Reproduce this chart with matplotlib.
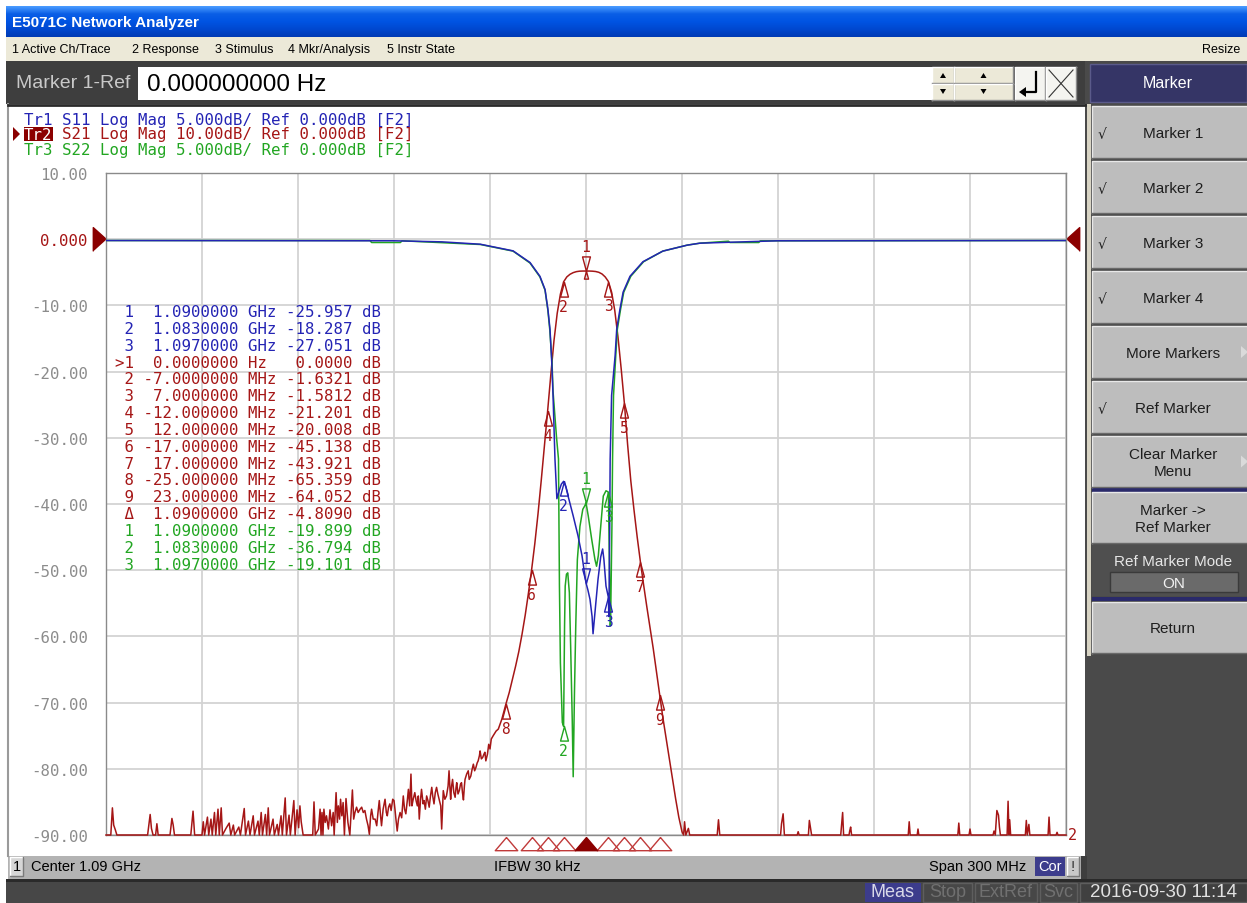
import numpy as np
import matplotlib
matplotlib.use("Agg")
import matplotlib.pyplot as plt
from matplotlib.patches import Rectangle, Polygon
from matplotlib.colors import LinearSegmentedColormap
from matplotlib.transforms import blended_transform_factory

W, H = 1247, 904
MONO = "DejaVu Sans Mono"
SANS = "Liberation Sans"

# ---- sweep settings ----
center_ghz = 1.09
span_mhz = 300.0

# ---- S21 trace (offset from centre in MHz, dB) ----
# noise floor left of the passband
s21_left_off = [-150, -148.5, -148.0, -147.6, -147.1, -146.6, -137.0, -136.2, -135.8, -135.3,
                -134.5, -134.1, -133.7, -130.0, -129.4, -129.0, -128.6, -123.5, -122.8, -122.3,
                -120.0, -119.6, -119.2, -118.3, -117.9, -117.2, -116.8, -116.1, -115.7, -115.0,
                -114.6, -114.0, -113.6, -112.5, -111.5, -111.0, -110.2, -109.8, -108.5, -108.0,
                -106.8, -106.4, -105.5, -105.0, -104.0, -103.6, -102.5, -102.1, -101.5, -101.1,
                -100.2, -99.8, -99.3, -98.9, -97.8, -97.4, -96.5, -96.1, -95.3, -94.9,
                -94.0, -93.6, -92.8, -92.4, -91.3, -90.9, -90.3, -89.8, -89.4, -89.0,
                -88.4, -85.4, -85.0, -84.6, -83.6, -83.1, -82.8, -82.5, -82.2, -81.9,
                -81.5, -81.1, -80.5, -80.0, -79.5, -79.0, -78.7, -78.1, -77.7, -77.4,
                -77.0, -76.7, -76.3, -75.9, -75.5, -75.0, -74.4, -73.8, -73.0, -72.6,
                -72.2, -71.7, -71.2, -70.6, -70.1, -69.6, -69.1, -68.6, -68.1, -67.7,
                -67.3, -67.0, -66.5, -65.9, -65.4, -65.0, -64.6, -64.2, -63.9, -63.4,
                -62.8, -62.4, -62.1, -61.7, -61.3, -60.9, -60.4, -60.0, -59.7, -59.4,
                -59.0, -58.6, -58.1, -57.6, -57.1, -56.7, -56.3, -55.8, -55.5, -55.1,
                -54.7, -54.4, -54.0, -53.5, -53.1, -52.7, -52.4, -52.1, -51.7, -51.4,
                -50.9, -50.6, -50.2, -49.8, -49.4, -49.0, -48.6, -48.2, -47.9, -47.5,
                -47.1, -46.7, -46.3, -45.8, -45.4, -45.1, -44.8, -44.6, -44.1, -43.6,
                -43.1, -42.8, -42.5, -42.3, -42.0, -41.7, -41.3, -40.9, -40.6, -40.4,
                -40.0, -39.6, -39.2, -38.9, -38.6, -38.3, -38.0, -37.8, -37.3, -36.8,
                -36.5, -36.0, -35.6, -35.2, -34.8, -34.4, -34.0, -33.7, -33.3, -33.1,
                -32.7, -32.3, -31.9, -31.6, -31.3, -30.8, -30.4, -30.0, -29.6, -29.0,
                -28.1, -27.4]
s21_left_db = [-90, -90, -85.9, -88.5, -89.2, -90, -90, -86.9, -89.0, -90,
               -90, -88.3, -90, -90, -87.5, -88.5, -90, -90, -86.4, -90,
               -90, -88.0, -90, -87.3, -90, -87.6, -90, -86.6, -90, -86.1,
               -90, -85.9, -90, -89.0, -88.2, -90, -88.5, -90, -88.8, -90,
               -86.0, -90, -87.9, -90, -87.1, -90, -87.9, -90, -86.6, -90,
               -86.9, -90, -85.9, -90, -87.6, -90, -88.4, -90, -87.1, -90,
               -84.4, -90, -87.0, -90, -84.8, -90, -86.2, -88.9, -85.6, -88.0,
               -90, -90, -85.0, -90, -89.1, -86.1, -90, -86.6, -90, -86.1,
               -88.1, -87.1, -89.1, -86.2, -88.6, -86.6, -90, -83.6, -88.1, -85.6,
               -87.6, -84.6, -87.1, -85.1, -90, -84.5, -88.1, -90, -83.2, -87.6,
               -86.6, -85.8, -86.6, -86.1, -85.8, -86.6, -86.3, -87.6, -88.6, -89.9,
               -87.1, -86.1, -87.6, -87.6, -88.6, -86.6, -84.8, -87.1, -88.6, -86.1,
               -84.6, -86.6, -87.1, -85.8, -85.3, -86.3, -84.6, -84.8, -86.1, -87.6,
               -89.4, -87.6, -86.6, -87.4, -84.1, -86.1, -86.8, -84.6, -83.1, -85.6,
               -80.8, -85.6, -84.6, -83.6, -84.8, -85.6, -84.1, -87.6, -84.6, -83.1,
               -85.3, -84.8, -86.1, -84.1, -84.8, -85.8, -84.1, -82.8, -84.1, -85.3,
               -83.6, -82.8, -83.8, -84.8, -85.6, -89.1, -85.6, -83.3, -84.6, -84.1,
               -82.6, -80.3, -83.1, -84.6, -82.6, -81.6, -83.6, -84.3, -82.8, -82.1,
               -83.8, -83.3, -82.3, -82.1, -83.6, -84.7, -82.6, -81.6, -80.8, -80.3,
               -81.6, -81.1, -80.1, -79.3, -80.3, -79.8, -79.1, -78.8, -78.0, -77.3,
               -78.5, -78.3, -77.8, -77.5, -78.8, -77.8, -76.3, -77.0, -75.5, -75.0,
               -74.3, -74.0]

# skirts and passband
s21_band_off = [-26.3, -25, -24, -23, -22, -21, -20, -19, -18, -17,
                -16, -15, -14, -13, -12, -11, -10, -9, -8, -7,
                -6, -5, -4, -3, -2, -1, 0, 1, 2, 3,
                4, 5, 6, 7, 8, 9, 10, 11, 12, 13,
                14, 15, 16, 17, 18, 19, 20, 21, 22, 23,
                24, 25, 26, 27, 28, 29, 30, 30.5]
s21_band_db = [-72.5, -70.17, -68.5, -66.5, -64.5, -62.3, -59.7, -56.8, -53.5, -49.95,
               -46.0, -41.5, -36.5, -31.3, -26.0, -20.5, -15.3, -11.2, -8.3, -6.44,
               -5.7, -5.3, -5.05, -4.9, -4.83, -4.81, -4.809, -4.81, -4.83, -4.88,
               -5.0, -5.25, -5.7, -6.39, -8.0, -10.8, -14.8, -19.6, -24.82, -31.0,
               -36.5, -40.9, -45.0, -48.73, -52.2, -55.5, -58.6, -61.8, -65.3, -68.86,
               -72.2, -75.3, -78.5, -81.5, -84.5, -87.3, -89.5, -90]

# noise floor right of the passband
s21_right_off = [30.8, 31.2, 32.0, 32.4, 41.0, 41.4, 41.8, 60.8, 61.1, 61.6,
                 62.0, 66.0, 66.3, 66.6, 69.5, 69.8, 70.2, 70.5, 79.6, 79.9,
                 80.2, 80.5, 82.2, 82.4, 82.7, 83.0, 100.7, 101.0, 101.3, 103.5,
                 103.75, 104.0, 116.2, 116.5, 116.8, 119.7, 120.0, 120.3, 127.2, 127.5,
                 127.9, 128.4, 128.9, 129.2, 129.5, 131.6, 131.9, 132.2, 132.4, 132.7,
                 137.3, 137.6, 137.9, 138.4, 138.7, 144.4, 144.7, 145.0, 146.9, 147.2,
                 147.5, 150]
s21_right_db = [-88.0, -90, -89.0, -90, -90, -87.7, -90, -90, -88.3, -86.8,
                -90, -90, -89.5, -90, -90, -87.8, -89.0, -90, -90, -88.3,
                -86.6, -90, -90, -89.4, -88.8, -90, -90, -88.0, -90, -90,
                -89.1, -90, -90, -88.2, -90, -90, -89.1, -90, -90, -89.4,
                -90, -86.3, -87.0, -88.8, -90, -90, -84.9, -90, -87.7, -90,
                -90, -87.8, -90, -88.4, -90, -90, -87.3, -90, -90, -89.6,
                -90, -90]

# ---- S11 trace (offset MHz, dB) ----
s11_off = [-150, -60, -45, -33, -22.8, -17.5, -14.4, -12.8, -11.9, -11.25,
           -10.7, -10.3, -9.7, -9.1, -8.4, -7.7, -7.0, -6.3, -5.6, -4.0,
           -2.5, -1.25, -0.6, 0.0, 0.6, 1.25, 1.9, 2.2, 3.1, 3.75,
           4.6, 5.2, 5.6, 6.25, 7.0, 7.15, 7.4, 7.55, 8.0, 9.1,
           9.6, 10.6, 11.6, 13.75, 17.8, 24.0, 31.6, 35.6, 60, 150]
s11_db = [-0.1, -0.12, -0.2, -0.38, -0.88, -1.76, -2.8, -3.8, -5.3, -6.8,
          -9.3, -11.8, -16.6, -19.6, -19.0, -18.5, -18.287, -18.7, -19.4, -20.9,
          -22.4, -23.9, -25.0, -25.957, -26.5, -27.2, -28.5, -29.8, -27.4, -25.7,
          -24.0, -23.4, -24.2, -26.2, -27.051, -28.5, -22.0, -16.6, -11.8, -8.8,
          -6.8, -5.3, -4.0, -2.8, -1.7, -0.9, -0.45, -0.3, -0.12, -0.1]

# ---- S22 trace (offset MHz, dB) ----
s22_off = [-150, -67.5, -67, -58, -57.5, -33, -22.8, -17.5, -14.4, -12.8,
           -11.9, -11.3, -10.6, -10.3, -9.2, -8.6, -8.3, -8.0, -7.4, -7.0,
           -6.7, -6.5, -6.1, -5.7, -5.2, -4.8, -4.3, -4.0, -3.6, -3.2,
           -2.7, -1.9, -1.0, -0.3, 0.0, 0.7, 1.8, 2.8, 3.3, 3.85,
           4.6, 5.4, 6.25, 7.0, 7.3, 7.6, 7.7, 8.1, 8.3, 8.6,
           9.3, 9.8, 10.8, 11.8, 14.0, 18.0, 24.0, 31.6, 35.6, 44.5,
           45, 54, 54.5, 150]
s22_db = [-0.1, -0.1, -0.25, -0.25, -0.12, -0.4, -0.9, -1.8, -2.85, -3.85,
          -5.4, -6.9, -9.4, -11.5, -15.0, -16.6, -26.2, -32.0, -36.5, -36.794,
          -29.2, -26.2, -25.3, -25.2, -26.7, -30.7, -36.3, -40.6, -34.2, -29.2,
          -24.2, -21.7, -20.4, -20.1, -19.899, -20.9, -22.7, -24.2, -24.7, -23.9,
          -21.7, -19.4, -19.0, -19.101, -24.2, -29.2, -28.7, -21.7, -16.6, -11.8,
          -8.8, -6.8, -5.3, -4.0, -2.8, -1.7, -0.9, -0.45, -0.3, -0.15,
          -0.25, -0.25, -0.12, -0.1]

# ---- marker readouts ----
s11_mkr_ghz = [1.09, 1.083, 1.097]
s11_mkr_db = [-25.957, -18.287, -27.051]
s21_ref_ghz = 1.09
s21_ref_db = -4.809
s21_mkr_off_mhz = [0, -7, 7, -12, 12, -17, 17, -25, 23]
s21_mkr_rel_db = [0.0, -1.6321, -1.5812, -21.201, -20.008, -45.138, -43.921, -65.359, -64.052]
s22_mkr_ghz = [1.09, 1.083, 1.097]
s22_mkr_db = [-19.899, -36.794, -19.101]

ytick_vals = list(range(10, -91, -10))

menu_items = ["1 Active Ch/Trace", "2 Response", "3 Stimulus", "4 Mkr/Analysis", "5 Instr State"]
menu_x = [12, 132, 215, 288, 387]
softkeys = ["Marker 1", "Marker 2", "Marker 3", "Marker 4", "More Markers", "Ref Marker",
            "Clear Marker\nMenu", "Marker ->\nRef Marker", "Return"]
softkey_top = [107, 162, 217, 272, 327, 382, 437, 493, 603]
softkey_bot = [159, 214, 269, 324, 379, 434, 488, 544, 654]
softkey_check = [True, True, True, True, False, True, False, False, False]
softkey_arrow = [False, False, False, False, True, False, True, False, False]

BLUE = "#2424B4"
RED = "#A51616"
GREEN = "#22A622"
DKRED = "#8B0000"

fig = plt.figure(figsize=(W / 100, H / 100), dpi=100)
fig.patch.set_facecolor("white")

bg = fig.add_axes([0, 0, 1, 1])
bg.set_zorder(0)
bg.axis("off")


def rect(x0, y0, x1, y1, fc, ec="none", lw=1, z=1):
    bg.add_patch(Rectangle((x0, y0), x1 - x0, y1 - y0, fc=fc, ec=ec, lw=lw, zorder=z))


def bevel(x0, y0, x1, y1, fc, light="#EFEFEF", dark="#5C5C5C", z=1):
    rect(x0, y0, x1, y1, fc, z=z)
    bg.plot([x0, x0, x1], [y1, y0, y0], color=light, lw=1, zorder=z + 0.1)
    bg.plot([x0, x1, x1], [y1, y1, y0], color=dark, lw=1, zorder=z + 0.1)


def txt(x, y, s, size, color="black", family=SANS, ha="left", weight="normal", z=3):
    bg.text(x, y, s, fontsize=size, color=color, family=family, ha=ha, va="center",
            fontweight=weight, zorder=z, linespacing=1.35)


# title bar with gradient
grad = np.linspace(0, 1, 40).reshape(-1, 1)
cmap = LinearSegmentedColormap.from_list("xp", ["#4A9BFF", "#0A5EE6", "#0054E3", "#0048D0", "#003BB5"])
bg.imshow(grad, cmap=cmap, extent=[6, W, 38, 7], aspect="auto", zorder=1)
txt(12, 23, "E5071C Network Analyzer", 11, "white", weight="bold")

# menu bar
rect(6, 38, W, 62, "#ECE9D8")
for m, mx in zip(menu_items, menu_x):
    txt(mx, 50, m, 9)
txt(1240, 50, "Resize", 9, ha="right")

# marker entry bar
rect(6, 62, 1090, 105, "#3E3E3E")
txt(16, 84, "Marker 1-Ref", 14, "#C9C9C9")
rect(138, 68, 932, 101, "white")
txt(147, 85, "0.000000000 Hz", 17.5)
for bx0, bx1 in [(932, 954), (954, 1013)]:
    bevel(bx0, 68, bx1, 84, "#ECE9D8", "#FFFFFF", "#8A8A8A", z=2)
    bevel(bx0, 85, bx1, 101, "#ECE9D8", "#FFFFFF", "#8A8A8A", z=2)
    cx = (bx0 + bx1) / 2
    bg.add_patch(Polygon([(cx - 3, 79), (cx + 3, 79), (cx, 74)], fc="black", zorder=3))
    bg.add_patch(Polygon([(cx - 3, 90), (cx + 3, 90), (cx, 95)], fc="black", zorder=3))
bevel(1015, 68, 1045, 101, "#F4F4F0", "#FFFFFF", "#8A8A8A", z=2)
bg.plot([1036, 1036, 1024], [73, 93, 93], color="black", lw=1.6, zorder=3)
bg.add_patch(Polygon([(1019, 93), (1026, 88), (1026, 98)], fc="black", zorder=3))
bevel(1046, 68, 1076, 101, "#F4F4F0", "#FFFFFF", "#8A8A8A", z=2)
bg.plot([1049, 1073], [71, 98], color="#333333", lw=0.8, zorder=3)
bg.plot([1049, 1073], [98, 71], color="#333333", lw=0.8, zorder=3)

# right soft-key panel
rect(1085, 62, W, 880, "#4A4A4A")
rect(1087, 105, 1091, 657, "#D8D4C4")
rect(1090, 65, W, 103, "#353566", ec="#5A5A8A")
txt(1168, 84, "Marker", 11.5, "white", ha="center")
for lab, t, b, chk, arr in zip(softkeys, softkey_top, softkey_bot, softkey_check, softkey_arrow):
    bevel(1092, t, W + 2, b, "#BDBDBD", "#E8E8E8", "#6A6A6A")
    txt(1173, (t + b) / 2 + 1, lab, 11, "#1E1E1E", ha="center")
    if chk:
        txt(1098, (t + b) / 2 + 2, "√", 10, "#1E1E1E", family="DejaVu Sans")
    if arr:
        cy = (t + b) / 2
        bg.add_patch(Polygon([(1241, cy - 6), (1241, cy + 6), (1248, cy)], fc="#DADADA", zorder=3))
rect(1092, 488, W, 493, "#2A2A6A")
rect(1092, 598, W, 602, "#2A2A6A")
rect(1092, 545, W, 597, "#4F4F4F")
txt(1173, 562, "Ref Marker Mode", 11, "#E6E6E6", ha="center")
rect(1110, 573, 1238, 593, "#6A6A6A", ec="#3A3A3A")
txt(1174, 584, "ON", 11, "#F2F2F2", ha="center")

# chart panel
rect(8, 105, 1085, 857, "white")
bg.plot([8, 8], [105, 857], color="#9A9A9A", lw=1.5, zorder=2)
bg.plot([8, 1085], [105.5, 105.5], color="#2A2A2A", lw=2, zorder=2)

# trace header (monospace, one character is about 9.45 px wide)
CHAR = 9.45
hdr_y = [120, 135, 150]
txt(24, hdr_y[0], "Tr1 S11 Log Mag 5.000dB/ Ref 0.000dB [F2]", 11.3, BLUE, family=MONO)
rect(24, 128, 53, 142, DKRED, z=2)
txt(24, hdr_y[1], "Tr2", 11.3, "white", family=MONO)
txt(24 + 4 * CHAR, hdr_y[1], "S21 Log Mag 10.00dB/ Ref 0.000dB [F2]", 11.3, RED, family=MONO)
bg.add_patch(Polygon([(13, 128), (13, 142), (20, 135)], fc=DKRED, zorder=3))
txt(24, hdr_y[2], "Tr3 S22 Log Mag 5.000dB/ Ref 0.000dB [F2]", 11.3, GREEN, family=MONO)


# marker readout table
def sig(v, n):
    ip = len(str(int(abs(v))))
    return f"{v:.{max(n - ip, 0)}f}"


rows = []
for i, (f, v) in enumerate(zip(s11_mkr_ghz, s11_mkr_db)):
    rows.append((BLUE, f"{i + 1:>2} {sig(f, 8):>10} GHz {sig(v, 5):>7} dB"))
for i, (o, v) in enumerate(zip(s21_mkr_off_mhz, s21_mkr_rel_db)):
    name = ">1" if i == 0 else str(i + 1)
    unit = "Hz " if o == 0 else "MHz"
    rows.append((RED, f"{name:>2} {sig(o, 8):>10} {unit} {sig(v, 5):>7} dB"))
rows.append((RED, f"{'Δ':>2} {sig(s21_ref_ghz, 8):>10} GHz {sig(s21_ref_db, 5):>7} dB"))
for i, (f, v) in enumerate(zip(s22_mkr_ghz, s22_mkr_db)):
    rows.append((GREEN, f"{i + 1:>2} {sig(f, 8):>10} GHz {sig(v, 5):>7} dB"))

# channel status bar
rect(8, 857, 1085, 880, "#B3B3B3")
bevel(10, 858, 23, 877, "#D6D6D6", "#FFFFFF", "#7A7A7A", z=2)
txt(16.5, 867, "1", 10.5, ha="center")
txt(31, 867, "Center 1.09 GHz", 10.5)
txt(494, 867, "IFBW 30 kHz", 10.5)
txt(1026, 867, "Span 300 MHz", 10.5, ha="right")
rect(1035, 858, 1065, 877, "#3C3C8C")
txt(1050, 867, "Cor", 10.5, "white", ha="center")
bevel(1067, 858, 1079, 877, "#C8C8C8", "#FFFFFF", "#7A7A7A", z=2)
txt(1073, 867, "!", 10.5, "#333333", ha="center")
rect(1081, 857, 1087, 880, "#3E3E3E")

# instrument status bar
rect(6, 880, W, 904, "#474747")
rect(6, 880, W, 883, "#2A2A2A")
rect(865, 884, 921, 903, "#3C3C8C")
txt(893, 893, "Meas", 13, "#D8D8E8", ha="center")
for lab, x0, x1 in [("Stop", 923, 972), ("ExtRef", 975, 1037), ("Svc", 1040, 1077)]:
    rect(x0, 884, x1, 903, "#474747", ec="#5E5E5E")
    txt((x0 + x1) / 2, 893, lab, 13, "#707070", ha="center")
rect(1080, 884, W, 903, "#404040", ec="#5E5E5E")
txt(1164, 893, "2016-09-30 11:14", 13.5, "#E2E2E2", ha="center")

bg.set_xlim(0, W)
bg.set_ylim(H, 0)

# ---- measurement axes ----
ax = fig.add_axes([106 / W, 1 - 836 / H, 960 / W, 662 / H])
ax.set_zorder(2)
ax2 = ax.twinx()
ax2.set_zorder(3)
ax2.patch.set_visible(False)

fmin = center_ghz - span_mhz / 2000
fmax = center_ghz + span_mhz / 2000
ax.set_xlim(fmin, fmax)
ax.set_ylim(-90, 10)
ax2.set_ylim(-45, 5)
ax.set_xticks(np.linspace(fmin, fmax, 11))
ax.set_xticklabels([])
ax.set_yticks(ytick_vals)
ax.set_yticklabels(["0.000" if v == 0 else f"{v:.2f}" for v in ytick_vals])
ax.tick_params(axis="both", length=0)
ax.tick_params(axis="y", pad=13, labelsize=11.3, labelcolor="#8C8C8C")
for lab in ax.get_yticklabels():
    lab.set_family(MONO)
ax.get_yticklabels()[1].set_color(RED)
ax2.set_yticks([])
ax.grid(True, color="#D3D3D3", lw=1.3)
for sp in ax.spines.values():
    sp.set_color("#8A8A8A")
    sp.set_linewidth(1)
for sp in ax2.spines.values():
    sp.set_visible(False)


def to_ghz(offsets):
    return center_ghz + np.asarray(offsets, dtype=float) / 1000.0


s21_off = s21_left_off + s21_band_off + s21_right_off
s21_db = s21_left_db + s21_band_db + s21_right_db

ax2.plot(to_ghz(s22_off), s22_db, color=GREEN, lw=1.1, zorder=2)
ax2.plot(to_ghz(s11_off), s11_db, color=BLUE, lw=1.1, zorder=3)
ax.plot(to_ghz(s21_off), s21_db, color=RED, lw=1.1, zorder=3, clip_on=False)

UP = [(0, 0), (-0.27, -1), (0.27, -1), (0, 0)]
DOWN = [(0, 0), (-0.27, 1), (0.27, 1), (0, 0)]


def marker(axx, f, v, label, color, active):
    axx.plot([f], [v], marker=DOWN if active else UP, ms=21, mfc="none", mec=color,
             mew=1.0, ls="none", zorder=6, clip_on=False)
    axx.annotate(label, (f, v), xytext=(0, 17.5 if active else -17.5), textcoords="offset points",
                 ha="center", va="center", color=color, fontsize=10.5, family=MONO, zorder=6)


for i, (f, v) in enumerate(zip(s11_mkr_ghz, s11_mkr_db)):
    marker(ax2, f, v, str(i + 1), BLUE, i == 0)
for i, (f, v) in enumerate(zip(s22_mkr_ghz, s22_mkr_db)):
    marker(ax2, f, v, str(i + 1), GREEN, i == 0)
s21_mkr_ghz = to_ghz(s21_mkr_off_mhz)
s21_mkr_abs = [s21_ref_db + d for d in s21_mkr_rel_db]
for i, (f, v) in enumerate(zip(s21_mkr_ghz, s21_mkr_abs)):
    marker(ax, f, v, str(i + 1), RED, i == 0)
ax.plot([s21_ref_ghz], [s21_ref_db], marker=UP, ms=11, mfc="none", mec=RED, mew=1.0,
        ls="none", zorder=6)

# marker position indicators under the grid
trans = blended_transform_factory(ax.transData, ax.transAxes)
IND = [(0, 0), (-0.85, -1), (0.85, -1), (0, 0)]
ax.plot(s21_mkr_ghz[1:], [-0.003] * (len(s21_mkr_ghz) - 1), transform=trans, marker=IND, ms=19,
        mfc="none", mec="#C03A3A", mew=1.0, ls="none", clip_on=False)
ax.plot(s21_mkr_ghz[:1], [-0.003], transform=trans, marker=IND, ms=19,
        mfc=DKRED, mec=DKRED, mew=1.0, ls="none", clip_on=False)
ax.text(1.002, 0.0, "2", transform=ax.transAxes, color=RED, family=MONO, fontsize=11,
        ha="left", va="center")

# reference level pointers
ytrans = blended_transform_factory(ax.transAxes, ax.transData)
ax.plot([0], [0], transform=ytrans, marker=[(-1, -0.9), (-1, 0.9), (0, 0)], ms=19,
        color=DKRED, ls="none", clip_on=False)
ax.plot([1], [0], transform=ytrans, marker=[(1, -0.9), (1, 0.9), (0, 0)], ms=19,
        color=DKRED, ls="none", clip_on=False)

# marker table text (drawn on top of the grid)
for k, (c, s) in enumerate(rows):
    fig.text(115 / W, 1 - (312.5 + 16.85 * k) / H, s, color=c, family=MONO, fontsize=11.3,
             va="center", ha="left", zorder=10)

fig.savefig("out.png", dpi=100)
